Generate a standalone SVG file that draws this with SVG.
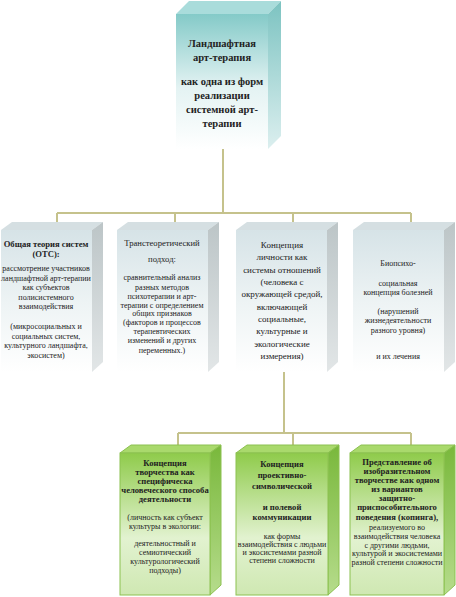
<svg xmlns="http://www.w3.org/2000/svg" width="456" height="597" viewBox="0 0 456 597">
<style>
text{font-family:"Liberation Serif","Times New Roman",serif;fill:#222;text-anchor:middle;dominant-baseline:central}
.t{font-size:10.5px;font-weight:bold}
.h{font-size:8.6px;font-weight:bold}
.r{font-size:8.6px}
.m{font-size:9px}
.b{font-size:8px}
.conn{stroke:#c5c28c;stroke-width:2;fill:none}
.gf{fill:url(#grayFront)}.gs{fill:url(#graySide)}.gt{fill:#d5dfe2}
.nf{fill:url(#greenFront);stroke:#8cc150;stroke-width:1}.ns{fill:url(#greenSide);stroke:#8cc150;stroke-width:1}.nt{fill:#a9d96c;stroke:#8cc150;stroke-width:1}
</style>
<defs>
<linearGradient id="tealFront" x1="0" y1="0" x2="0" y2="1"><stop offset="0" stop-color="#84cac8"/><stop offset="0.55" stop-color="#e4f3f3"/><stop offset="1" stop-color="#ffffff"/></linearGradient>
<linearGradient id="tealSide" x1="0" y1="0" x2="0" y2="1"><stop offset="0" stop-color="#7cc3c1"/><stop offset="1" stop-color="#dcefef"/></linearGradient>
<linearGradient id="grayFront" x1="0" y1="0" x2="0" y2="1"><stop offset="0" stop-color="#d6e3e7"/><stop offset="0.5" stop-color="#edf3f4"/><stop offset="1" stop-color="#ffffff"/></linearGradient>
<linearGradient id="graySide" x1="0" y1="0" x2="0" y2="1"><stop offset="0" stop-color="#bcc5c7"/><stop offset="1" stop-color="#e2e6e7"/></linearGradient>
<linearGradient id="greenFront" x1="0" y1="0" x2="0" y2="1"><stop offset="0" stop-color="#8fcb4b"/><stop offset="0.6" stop-color="#e2f2d0"/><stop offset="1" stop-color="#cfe8b2"/></linearGradient>
<linearGradient id="greenSide" x1="0" y1="0" x2="0" y2="1"><stop offset="0" stop-color="#79b83b"/><stop offset="1" stop-color="#b6dc8c"/></linearGradient>
</defs>

<g id="connectors">
<path class="conn" d="M223 149V213M57 213H411M57 213V222M175 213V222M293 213V222M411 213V222"/>
<path class="conn" d="M284 372V433M178 433H411M178 433V445M293 433V445M411 433V445"/>
</g>

<g id="node-top">
<polygon points="176,14 189,1 281,1 268,14" fill="#a9dcdb"/>
<polygon points="268,14 281,1 281,136 268,149" fill="url(#tealSide)"/>
<rect x="176" y="14" width="92" height="135" fill="url(#tealFront)"/>
<text class="t" x="222" y="43">Ландшафтная</text>
<text class="t" x="222" y="57">арт-терапия</text>
<text class="t" x="222" y="81">как одна из форм</text>
<text class="t" x="222" y="95">реализации</text>
<text class="t" x="222" y="109">системной арт-</text>
<text class="t" x="222" y="123">терапии</text>
</g>

<g id="node-ots">
<polygon class="gt" points="1,230 12,222 103,222 92,230"/>
<polygon class="gs" points="92,230 103,222 103,362 92,372"/>
<rect class="gf" x="1" y="230" width="91" height="142"/>
<text class="h" x="46" y="244">Общая теория систем</text>
<text class="h" x="46" y="254">(ОТС):</text>
<text class="b" x="46" y="268">рассмотрение участников</text>
<text class="b" x="46" y="278">ландшафтной арт-терапии</text>
<text class="b" x="46" y="287">как субъектов</text>
<text class="b" x="46" y="297">полисистемного</text>
<text class="b" x="46" y="306">взаимодействия</text>
<text class="b" x="46" y="326">(микросоциальных и</text>
<text class="b" x="46" y="336">социальных систем,</text>
<text class="b" x="46" y="345">культурного ландшафта,</text>
<text class="b" x="46" y="355">экосистем)</text>
</g>

<g id="node-trans">
<polygon class="gt" points="117,230 128,222 219,222 208,230"/>
<polygon class="gs" points="208,230 219,222 219,362 208,372"/>
<rect class="gf" x="117" y="230" width="91" height="142"/>
<text class="r" x="162" y="243">Транстеоретический</text>
<text class="r" x="162" y="259">подход:</text>
<text class="b" x="162" y="277">сравнительный анализ</text>
<text class="b" x="162" y="287">разных методов</text>
<text class="b" x="162" y="296">психотерапии и арт-</text>
<text class="b" x="162" y="305">терапии с определением</text>
<text class="b" x="162" y="313">общих признаков</text>
<text class="b" x="162" y="322">(факторов и процессов</text>
<text class="b" x="162" y="331">терапевтических</text>
<text class="b" x="162" y="340">изменений и других</text>
<text class="b" x="162" y="350">переменных.)</text>
</g>

<g id="node-personality">
<polygon class="gt" points="236,230 247,222 338,222 327,230"/>
<polygon class="gs" points="327,230 338,222 338,362 327,372"/>
<rect class="gf" x="236" y="230" width="91" height="142"/>
<text class="m" x="282" y="245">Концепция</text>
<text class="m" x="282" y="257">личности как</text>
<text class="m" x="282" y="270">системы отношений</text>
<text class="m" x="282" y="282">(человека с</text>
<text class="m" x="282" y="294">окружающей средой,</text>
<text class="m" x="282" y="307">включающей</text>
<text class="m" x="282" y="319">социальные,</text>
<text class="m" x="282" y="331">культурные и</text>
<text class="m" x="282" y="344">экологические</text>
<text class="m" x="282" y="356">измерения)</text>
</g>

<g id="node-bio">
<polygon class="gt" points="353,230 364,222 455,222 444,230"/>
<polygon class="gs" points="444,230 455,222 455,362 444,372"/>
<rect class="gf" x="353" y="230" width="91" height="142"/>
<text class="b" x="398" y="263">Биопсихо-</text>
<text class="b" x="398" y="283">социальная</text>
<text class="b" x="398" y="292">концепция болезней</text>
<text class="b" x="398" y="311">(нарушений</text>
<text class="b" x="398" y="320">жизнедеятельности</text>
<text class="b" x="398" y="330">разного уровня)</text>
<text class="b" x="398" y="356">и их лечения</text>
</g>

<g id="node-creativity">
<polygon class="nt" points="120,453 131,445 221,445 210,453"/>
<polygon class="ns" points="210,453 221,445 221,585 210,595"/>
<rect class="nf" x="120" y="453" width="90" height="142"/>
<text class="h" x="165" y="463">Концепция</text>
<text class="h" x="165" y="472">творчества как</text>
<text class="h" x="165" y="481">специфическа</text>
<text class="h" x="165" y="490">человеческого способа</text>
<text class="h" x="165" y="499">деятельности</text>
<text class="b" x="165" y="517">(личность как субъект</text>
<text class="b" x="165" y="526">культуры в экологии:</text>
<text class="b" x="165" y="543">деятельностный и</text>
<text class="b" x="165" y="552">семиотический</text>
<text class="b" x="165" y="561">культурологический</text>
<text class="b" x="165" y="570">подходы)</text>
</g>

<g id="node-projective">
<polygon class="nt" points="236,453 247,445 339,445 328,453"/>
<polygon class="ns" points="328,453 339,445 339,585 328,595"/>
<rect class="nf" x="236" y="453" width="92" height="142"/>
<text class="h" x="282" y="464">Концепция</text>
<text class="h" x="282" y="475">проективно-</text>
<text class="h" x="282" y="486">символической</text>
<text class="h" x="282" y="507">и полевой</text>
<text class="h" x="282" y="517">коммуникации</text>
<text class="b" x="282" y="536">как формы</text>
<text class="b" x="282" y="544">взаимодействия с людьми</text>
<text class="b" x="282" y="552">и экосистемами разной</text>
<text class="b" x="282" y="560">степени сложности</text>
</g>

<g id="node-coping">
<polygon class="nt" points="350,453 361,445 455,445 444,453"/>
<polygon class="ns" points="444,453 455,445 455,585 444,595"/>
<rect class="nf" x="350" y="453" width="94" height="142"/>
<text class="h" x="397" y="462">Представление об</text>
<text class="h" x="397" y="471">изобразительном</text>
<text class="h" x="397" y="480">творчестве как одном</text>
<text class="h" x="397" y="489">из вариантов</text>
<text class="h" x="397" y="498">защитно-</text>
<text class="h" x="397" y="507">приспособительного</text>
<text class="h" x="397" y="517">поведения (копинга),</text>
<text class="b" x="397" y="527">реализуемого во</text>
<text class="b" x="397" y="536">взаимодействия человека</text>
<text class="b" x="397" y="545">с другими людьми,</text>
<text class="b" x="397" y="553">культурой и экосистемами</text>
<text class="b" x="397" y="562">разной степени сложности</text>
</g>
</svg>
